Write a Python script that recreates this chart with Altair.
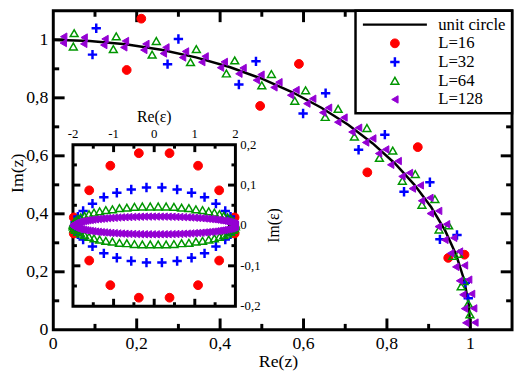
import altair as alt
import pandas as pd

SERIF = "Liberation Serif"

# ---------------- legend / series styling ----------------
series_names = ["unit circle", "L=16", "L=32", "L=64", "L=128"]
stroke_colors = ["#000000", "#ff0000", "#0000ff", "#009600", "#9400d3"]
fill_colors = ["transparent", "#ff0000", "transparent", "transparent", "#9400d3"]
symbol_shapes = ["stroke", "circle", "M-1,0L1,0M0,-1L0,1", "triangle-up", "triangle-left"]
symbol_sizes = [4225, 80, 90, 64, 56]
symbol_strokes = [2.5, 1, 2.5, 1.5, 1]

# ---------------- main panel data: z in the complex plane ----------------
circle_re = [0.0, 0.0872, 0.1736, 0.2588, 0.3420, 0.4226, 0.5, 0.5736, 0.6428, 0.7071,
             0.7660, 0.8192, 0.8660, 0.9063, 0.9397, 0.9659, 0.9848, 0.9962, 1.0]
circle_im = [1.0, 0.9962, 0.9848, 0.9659, 0.9397, 0.9063, 0.8660, 0.8192, 0.7660, 0.7071,
             0.6428, 0.5736, 0.5, 0.4226, 0.3420, 0.2588, 0.1736, 0.0872, 0.0]

l16_re = [0.211, 0.176, 0.589, 0.496, 0.874, 0.753, 0.986, 0.947]
l16_im = [1.073, 0.896, 0.917, 0.772, 0.630, 0.543, 0.259, 0.248]

l32_re = [0.103, 0.094, 0.300, 0.274, 0.486, 0.445, 0.653, 0.599,
          0.795, 0.732, 0.903, 0.841, 0.968, 0.927, 0.988, 0.995]
l32_im = [1.040, 0.949, 1.003, 0.916, 0.926, 0.846, 0.816, 0.746,
          0.673, 0.621, 0.509, 0.476, 0.327, 0.312, 0.162, 0.109]

l64_re = [0.050, 0.048, 0.151, 0.144, 0.247, 0.237, 0.343, 0.329, 0.435, 0.415, 0.523, 0.500,
          0.605, 0.579, 0.683, 0.652, 0.752, 0.722, 0.814, 0.782, 0.868, 0.837, 0.915, 0.884,
          0.948, 0.925, 0.972, 0.958, 0.985, 0.978, 0.999, 0.995]
l64_im = [1.023, 0.977, 1.012, 0.968, 0.996, 0.949, 0.968, 0.923, 0.929, 0.884, 0.882, 0.843,
          0.826, 0.790, 0.762, 0.734, 0.696, 0.666, 0.618, 0.593, 0.537, 0.514, 0.451, 0.431,
          0.360, 0.346, 0.262, 0.255, 0.168, 0.150, 0.053, 0.090]

l128_re = [1.011, 0.989, 1.008, 0.986, 1.003, 0.982, 0.996, 0.974, 0.986, 0.965, 0.974, 0.953,
           0.960, 0.939, 0.943, 0.923, 0.924, 0.904, 0.903, 0.883, 0.880, 0.861, 0.854, 0.836,
           0.827, 0.809, 0.797, 0.780, 0.766, 0.749, 0.732, 0.716, 0.697, 0.682, 0.660, 0.646,
           0.622, 0.608, 0.582, 0.569, 0.541, 0.529, 0.498, 0.487, 0.455, 0.445, 0.410, 0.401,
           0.364, 0.356, 0.317, 0.310, 0.270, 0.264, 0.222, 0.217, 0.173, 0.169, 0.124, 0.121,
           0.074, 0.073, 0.025, 0.024]
l128_im = [0.025, 0.024, 0.074, 0.073, 0.124, 0.121, 0.173, 0.169, 0.222, 0.217, 0.270, 0.264,
           0.317, 0.310, 0.364, 0.356, 0.410, 0.401, 0.455, 0.445, 0.498, 0.487, 0.541, 0.529,
           0.582, 0.569, 0.622, 0.608, 0.660, 0.646, 0.697, 0.682, 0.732, 0.716, 0.766, 0.749,
           0.797, 0.780, 0.827, 0.809, 0.854, 0.836, 0.880, 0.861, 0.903, 0.883, 0.924, 0.904,
           0.943, 0.923, 0.960, 0.939, 0.974, 0.953, 0.986, 0.965, 0.996, 0.974, 1.003, 0.982,
           1.008, 0.986, 1.011, 0.989]

# ---------------- inset data: epsilon ----------------
e16_re = [-1.98, -1.60, -1.08, -0.378, 0.378, 1.08, 1.60, 1.98,
          -1.98, -1.60, -1.08, -0.378, 0.378, 1.08, 1.60, 1.98]
e16_im = [0.02, 0.087, 0.148, 0.179, 0.179, 0.148, 0.087, 0.02,
          -0.02, -0.087, -0.148, -0.179, -0.179, -0.148, -0.087, -0.02]

e32_re = [-1.95, -1.88, -1.75, -1.52, -1.24, -0.92, -0.565, -0.19,
          0.19, 0.565, 0.92, 1.24, 1.52, 1.75, 1.88, 1.95,
          -1.95, -1.88, -1.75, -1.52, -1.24, -0.92, -0.565, -0.19,
          0.19, 0.565, 0.92, 1.24, 1.52, 1.75, 1.88, 1.95]
e32_im = [0.008, 0.022, 0.036, 0.054, 0.070, 0.081, 0.089, 0.094,
          0.094, 0.089, 0.081, 0.070, 0.054, 0.036, 0.022, 0.008,
          -0.008, -0.022, -0.035, -0.052, -0.069, -0.080, -0.088, -0.092,
          -0.092, -0.088, -0.080, -0.069, -0.052, -0.035, -0.022, -0.008]

e64_re = [-1.998, -1.978, -1.940, -1.883, -1.808, -1.715, -1.606, -1.482,
          -1.343, -1.191, -1.028, -0.855, -0.674, -0.486, -0.293, -0.098,
          0.098, 0.293, 0.486, 0.674, 0.855, 1.028, 1.191, 1.343,
          1.482, 1.606, 1.715, 1.808, 1.883, 1.940, 1.978, 1.998,
          -1.998, -1.978, -1.940, -1.883, -1.808, -1.715, -1.606, -1.482,
          -1.343, -1.191, -1.028, -0.855, -0.674, -0.486, -0.293, -0.098,
          0.098, 0.293, 0.486, 0.674, 0.855, 1.028, 1.191, 1.343,
          1.482, 1.606, 1.715, 1.808, 1.883, 1.940, 1.978, 1.998]
e64_im = [0.002, 0.007, 0.011, 0.016, 0.020, 0.024, 0.028, 0.032,
          0.035, 0.038, 0.040, 0.043, 0.044, 0.046, 0.047, 0.047,
          0.047, 0.047, 0.046, 0.044, 0.043, 0.040, 0.038, 0.035,
          0.032, 0.028, 0.024, 0.020, 0.016, 0.011, 0.007, 0.002,
          -0.002, -0.007, -0.011, -0.016, -0.020, -0.024, -0.028, -0.032,
          -0.035, -0.038, -0.040, -0.043, -0.044, -0.046, -0.047, -0.047,
          -0.047, -0.047, -0.046, -0.044, -0.043, -0.040, -0.038, -0.035,
          -0.032, -0.028, -0.024, -0.020, -0.016, -0.011, -0.007, -0.002]

e128_half_re = [1.999, 1.995, 1.985, 1.971, 1.951, 1.928, 1.899, 1.866,
                1.828, 1.786, 1.740, 1.690, 1.635, 1.577, 1.514, 1.449,
                1.379, 1.306, 1.231, 1.152, 1.070, 0.986, 0.899, 0.811,
                0.720, 0.627, 0.533, 0.438, 0.342, 0.245, 0.147, 0.049]
e128_half_im = [0.0005, 0.0016, 0.0027, 0.0038, 0.0048, 0.0059, 0.0069, 0.0079,
                0.0089, 0.0099, 0.0108, 0.0118, 0.0127, 0.0135, 0.0144, 0.0152,
                0.0159, 0.0167, 0.0173, 0.0180, 0.0186, 0.0191, 0.0197, 0.0201,
                0.0205, 0.0209, 0.0212, 0.0215, 0.0217, 0.0219, 0.0219, 0.0220]

# ---------------- ticks, tick labels, axis titles ----------------
main_major = [0.2, 0.4, 0.6, 0.8, 1.0]
main_minor = [0.1, 0.3, 0.5, 0.7, 0.9]
main_label_values = [0, 0.2, 0.4, 0.6, 0.8, 1.0]
main_label_text = ["0", "0,2", "0,4", "0,6", "0,8", "1"]
inset_x_major = [-1, 0, 1]
inset_x_minor = [-1.5, -0.5, 0.5, 1.5]
inset_x_label_values = [-2, -1, 0, 1, 2]
inset_x_label_text = ["-2", "-1", "0", "1", "2"]
inset_y_major = [-0.1, 0, 0.1]
inset_y_minor = [-0.15, -0.05, 0.05, 0.15]
inset_y_label_values = [-0.2, -0.1, 0, 0.1, 0.2]
inset_y_label_text = ["-0,2", "-0,1", "0", "0,1", "0,2"]
inset_box_re = [-2, 2]
inset_box_im = [-0.2, 0.2]
x_title, y_title = "Re(z)", "Im(z)"
inset_x_title, inset_y_title = "Re(ε)", "Im(ε)"
main_title_at = 0.54
inset_title_at = 0


# ---------------- tables ----------------
def table(groups):
    rows = []
    for name, xs, ys in groups:
        for a, b in zip(xs, ys):
            rows.append({"series": name, "x": a, "y": b})
    return pd.DataFrame(rows)


circle_df = pd.DataFrame({"x": circle_re, "y": circle_im})
main_df = table([("L=16", l16_re, l16_im), ("L=32", l32_re, l32_im),
                 ("L=64", l64_re, l64_im), ("L=128", l128_re, l128_im)])

e128_re, e128_im = [], []
for sx, sy in [(-1, 1), (1, 1), (-1, -1), (1, -1)]:
    for a, b in zip(e128_half_re, e128_half_im):
        e128_re.append(sx * a)
        e128_im.append(sy * b)
inset_df = table([("L=16", e16_re, e16_im), ("L=32", e32_re, e32_im),
                  ("L=64", e64_re, e64_im), ("L=128", e128_re, e128_im)])
box_df = pd.DataFrame({"x": [inset_box_re[0]], "x2": [inset_box_re[1]],
                       "y": [inset_box_im[0]], "y2": [inset_box_im[1]]})

# ---------------- geometry (plot-area pixels, whole numbers) ----------------
W, H = 466, 324
IN_L, IN_R, IN_T, IN_B = 20, 185, 136, 300
MAIN_MAJ, MAIN_MIN = 11, 6
IN_MAJ, IN_MIN = 7, 4

xs_main = alt.Scale(domain=[0, 1.1], nice=False, zero=False)
ys_main = alt.Scale(domain=[0, 1.1], nice=False, zero=False)
xs_in = alt.Scale(domain=[-2, 2], range=[IN_L, IN_R], nice=False, zero=False)
ys_in = alt.Scale(domain=[-0.2, 0.2], range=[IN_B, IN_T], nice=False, zero=False)

legend = alt.Legend(title=None, orient="top-right", offset=0, padding=6,
                    strokeColor="black", fillColor="white", labelFont=SERIF,
                    labelFontSize=17, labelColor="black", clipHeight=16, rowPadding=2,
                    labelOffset=10, labelLimit=0)

enc_style = dict(
    stroke=alt.Stroke("series:N", scale=alt.Scale(domain=series_names, range=stroke_colors), legend=legend),
    fill=alt.Fill("series:N", scale=alt.Scale(domain=series_names, range=fill_colors), legend=legend),
    shape=alt.Shape("series:N", scale=alt.Scale(domain=series_names, range=symbol_shapes), legend=legend),
    size=alt.Size("series:N", scale=alt.Scale(type="ordinal", domain=series_names, range=symbol_sizes), legend=legend),
    strokeWidth=alt.StrokeWidth("series:N", scale=alt.Scale(type="ordinal", domain=series_names, range=symbol_strokes), legend=legend),
)


def xpos(field, scale):
    return alt.X(field, type="quantitative", scale=scale, axis=None)


def ypos(field, scale):
    return alt.Y(field, type="quantitative", scale=scale, axis=None)


def vticks(values, xscale, length, y_center):
    # short vertical tick marks along a horizontal edge, pointing inward
    return alt.Chart(pd.DataFrame({"v": values})).mark_tick(
        color="black", thickness=3, size=length, opacity=1
    ).encode(x=xpos("v", xscale), y=alt.value(y_center))


def hticks(values, yscale, length, x_center):
    return alt.Chart(pd.DataFrame({"v": values})).mark_tick(
        color="black", thickness=3, size=length, opacity=1
    ).encode(y=ypos("v", yscale), x=alt.value(x_center))


def xlabels(values, texts, xscale, y_px, size, baseline):
    return alt.Chart(pd.DataFrame({"v": values, "t": texts})).mark_text(
        font=SERIF, fontSize=size, color="black", align="center", baseline=baseline
    ).encode(x=xpos("v", xscale), y=alt.value(y_px), text="t:N")


def ylabels(values, texts, yscale, x_px, size, align):
    return alt.Chart(pd.DataFrame({"v": values, "t": texts})).mark_text(
        font=SERIF, fontSize=size, color="black", align=align, baseline="middle"
    ).encode(y=ypos("v", yscale), x=alt.value(x_px), text="t:N")


def xtitle(at, text, xscale, y_px, size):
    return alt.Chart(pd.DataFrame({"v": [at], "t": [text]})).mark_text(
        font=SERIF, fontSize=size, color="black", align="center", baseline="middle"
    ).encode(x=xpos("v", xscale), y=alt.value(y_px), text="t:N")


def ytitle(at, text, yscale, x_px, size):
    return alt.Chart(pd.DataFrame({"v": [at], "t": [text]})).mark_text(
        font=SERIF, fontSize=size, color="black", align="center", baseline="middle", angle=270
    ).encode(y=ypos("v", yscale), x=alt.value(x_px), text="t:N")


# ---- main panel ----
circle_line = alt.Chart(circle_df).mark_line(color="black", strokeWidth=2.5).encode(
    x=xpos("x", xs_main), y=ypos("y", ys_main))
main_points = alt.Chart(main_df).mark_point(opacity=1).encode(
    x=xpos("x", xs_main), y=ypos("y", ys_main), **enc_style)

main_decor = [
    vticks(main_major, xs_main, MAIN_MAJ, H - 6),
    vticks(main_minor, xs_main, MAIN_MIN, H - 3),
    vticks(main_major, xs_main, MAIN_MAJ, 6),
    vticks(main_minor, xs_main, MAIN_MIN, 3),
    hticks(main_major, ys_main, MAIN_MAJ, 6),
    hticks(main_minor, ys_main, MAIN_MIN, 3),
    hticks(main_major, ys_main, MAIN_MAJ, W - 6),
    hticks(main_minor, ys_main, MAIN_MIN, W - 3),
    xlabels(main_label_values, main_label_text, xs_main, H + 5, 18, "top"),
    ylabels(main_label_values, main_label_text, ys_main, -5, 18, "right"),
    xtitle(main_title_at, x_title, xs_main, H + 33, 18),
    ytitle(main_title_at, y_title, ys_main, -36, 18),
]

main_layer = alt.layer(circle_line, *main_decor, main_points)

# ---- inset ----
inset_box = alt.Chart(box_df).mark_rect(filled=False, stroke="black", strokeWidth=3).encode(
    x=xpos("x", xs_in), x2="x2:Q", y=ypos("y", ys_in), y2="y2:Q")

inset_points = alt.Chart(inset_df).mark_point(opacity=1).encode(
    x=xpos("x", xs_in), y=ypos("y", ys_in), **enc_style)

inset_decor = [
    vticks(inset_x_major, xs_in, IN_MAJ, IN_T + 4),
    vticks(inset_x_minor, xs_in, IN_MIN, IN_T + 2),
    vticks(inset_x_major, xs_in, IN_MAJ, IN_B - 4),
    vticks(inset_x_minor, xs_in, IN_MIN, IN_B - 2),
    hticks(inset_y_major, ys_in, IN_MAJ, IN_L + 4),
    hticks(inset_y_minor, ys_in, IN_MIN, IN_L + 2),
    hticks(inset_y_major, ys_in, IN_MAJ, IN_R - 4),
    hticks(inset_y_minor, ys_in, IN_MIN, IN_R - 2),
    xlabels(inset_x_label_values, inset_x_label_text, xs_in, IN_T - 4, 13, "bottom"),
    ylabels(inset_y_label_values, inset_y_label_text, ys_in, IN_R + 5, 13, "left"),
    xtitle(inset_title_at, inset_x_title, xs_in, IN_T - 28, 16),
    ytitle(inset_title_at, inset_y_title, ys_in, IN_R + 39, 16),
]

inset_layer = alt.layer(inset_box, *inset_decor, inset_points)

chart = (
    alt.layer(main_layer, inset_layer)
    .resolve_scale(x="independent", y="independent")
    .properties(width=W, height=H, autosize=alt.AutoSizeParams(type="none"),
                padding={"left": 46, "top": 0, "right": 3, "bottom": 42})
    .configure_view(stroke="black", strokeWidth=3)
    .configure_legend(strokeWidth=2.5)
)

chart.save("out.html", embed_options={"renderer": "svg", "actions": False})
